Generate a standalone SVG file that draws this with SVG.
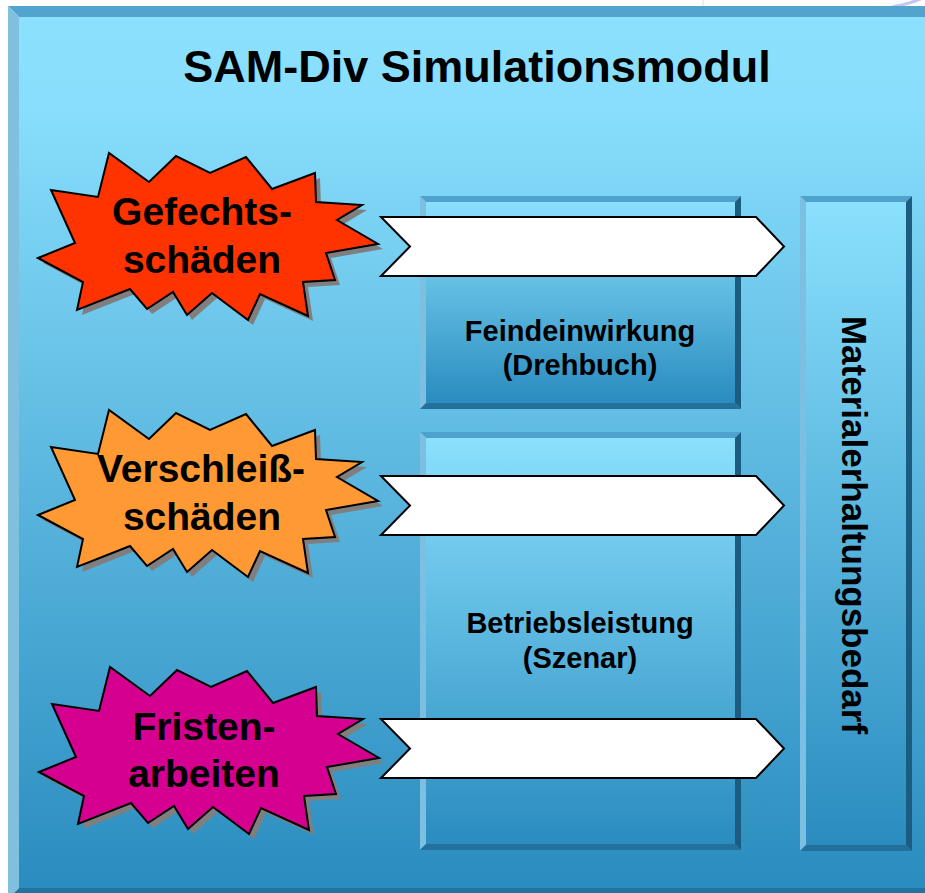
<svg xmlns="http://www.w3.org/2000/svg" xmlns:xlink="http://www.w3.org/1999/xlink" width="925" height="893" viewBox="0 0 925 893">
  <style>
    .lbl { font-family: "Liberation Sans", Arial, sans-serif; font-weight: bold; fill: #000; text-anchor: middle; }
    .title { font-size: 45px; }
    .burst-txt { font-size: 39px; }
    .box-txt { font-size: 29px; }
    .side-txt { font-size: 35px; }
    .bv-t { fill: #4fa2cd; }
    .bv-l { fill: #7dbfe0; }
    .bv-r { fill: #1c5c80; }
    .bv-b { fill: #22709b; }
    .arrow { fill: #fff; stroke: #000; stroke-width: 2; stroke-linejoin: miter; }
    .burst { stroke: #000; stroke-width: 2; stroke-linejoin: miter; }
    .shadow { fill: #7f7f7f; }
  </style>
  <defs>
    <linearGradient id="sky" x1="0" y1="0" x2="0" y2="1">
      <stop offset="0" stop-color="#8ae0fd"/>
      <stop offset="1" stop-color="#2a8cbf"/>
    </linearGradient>
    <linearGradient id="frameSky" x1="0" y1="0" x2="0" y2="1">
      <stop offset="0" stop-color="#8ae0fd"/>
      <stop offset="0.1" stop-color="#88defc"/>
      <stop offset="1" stop-color="#2a8cbf"/>
    </linearGradient>
    <!-- explosion outline shared by the three bursts -->
    <path id="burst" d="M38,258 L75,243 L51,190 L98,197 L109,153 L149,182 L176,156 L210,173 L246,157 L272,189 L315,173 L316,202 L362,205 L337,220 L378,244 L326,253 L335,280 L303,282 L308,316 L260,294 L248,320 L212,293 L187,315 L173,292 L147,309 L130,289 L77,310 L83,282 Z"/>
  </defs>

  <rect width="925" height="893" fill="#fff"/>
  <line x1="703" y1="0" x2="703" y2="6" stroke="#dcdcdc" stroke-width="1"/>
  <path d="M892,7 Q910,4 925,-3" fill="none" stroke="#c4c4f0" stroke-width="3"/>

  <!-- outer module frame -->
  <g id="frame">
    <rect x="19" y="17" width="916" height="871" fill="url(#frameSky)"/>
    <polygon points="8,6 935,6 935,17 19,17" fill="#52a4ce"/>
    <polygon points="8,6 19,17 19,888 8,899" fill="#80bfdd"/>
    <polygon points="8,899 19,888 935,888 935,899" fill="#21729e"/>
  </g>

  <text class="lbl title" x="477" y="82">SAM-Div Simulationsmodul</text>

  <g id="feindeinwirkung">
    <rect x="426" y="202" width="309" height="201" fill="url(#sky)"/>
    <polygon class="bv-t" points="420,196 741,196 735,202 426,202"/>
    <polygon class="bv-l" points="420,196 426,202 426,403 420,409"/>
    <polygon class="bv-r" points="741,196 741,409 735,403 735,202"/>
    <polygon class="bv-b" points="420,409 426,403 735,403 741,409"/>
    <text class="lbl box-txt" x="580" y="341">Feindeinwirkung</text>
    <text class="lbl box-txt" x="580" y="375">(Drehbuch)</text>
  </g>

  <g id="betriebsleistung">
    <rect x="426" y="438" width="309" height="406" fill="url(#sky)"/>
    <polygon class="bv-t" points="420,432 741,432 735,438 426,438"/>
    <polygon class="bv-l" points="420,432 426,438 426,844 420,850"/>
    <polygon class="bv-r" points="741,432 741,850 735,844 735,438"/>
    <polygon class="bv-b" points="420,850 426,844 735,844 741,850"/>
    <text class="lbl box-txt" x="580" y="633">Betriebsleistung</text>
    <text class="lbl box-txt" x="580" y="668">(Szenar)</text>
  </g>

  <g id="materialerhaltungsbedarf">
    <rect x="806" y="202" width="100" height="643" fill="url(#sky)"/>
    <polygon class="bv-t" points="800,196 912,196 906,202 806,202"/>
    <polygon class="bv-l" points="800,196 806,202 806,845 800,851"/>
    <polygon class="bv-r" points="912,196 912,851 906,845 906,202"/>
    <polygon class="bv-b" points="800,851 806,845 906,845 912,851"/>
    <text class="lbl side-txt" transform="translate(842,525) rotate(90)" x="0" y="0">Materialerhaltungsbedarf</text>
  </g>

  <g id="gefechtsschaeden">
    <use xlink:href="#burst" class="shadow" transform="translate(5,5)"/>
    <use xlink:href="#burst" class="burst" fill="#ff3300"/>
    <text class="lbl burst-txt" x="202" y="225">Gefechts-</text>
    <text class="lbl burst-txt" x="202" y="273">schäden</text>
  </g>

  <g id="verschleissschaeden">
    <use xlink:href="#burst" class="shadow" transform="translate(5,262)"/>
    <use xlink:href="#burst" class="burst" fill="#ff9933" transform="translate(0,257)"/>
    <text class="lbl burst-txt" x="201" y="482">Verschleiß-</text>
    <text class="lbl burst-txt" x="202" y="530">schäden</text>
  </g>

  <g id="fristenarbeiten">
    <use xlink:href="#burst" class="shadow" transform="translate(6,519)"/>
    <use xlink:href="#burst" class="burst" fill="#d5008f" transform="translate(1,514)"/>
    <text class="lbl burst-txt" x="204" y="740">Fristen-</text>
    <text class="lbl burst-txt" x="204" y="787">arbeiten</text>
  </g>

  <!-- flow chevrons -->
  <g id="connectors">
    <polygon class="arrow" points="381,217 756,217 784,246.5 756,276 381,276 410,246.5"/>
    <polygon class="arrow" points="381,476 756,476 784,505.5 756,535 381,535 410,505.5"/>
    <polygon class="arrow" points="381,719 756,719 784,748.5 756,778 381,778 410,748.5"/>
  </g>
</svg>
